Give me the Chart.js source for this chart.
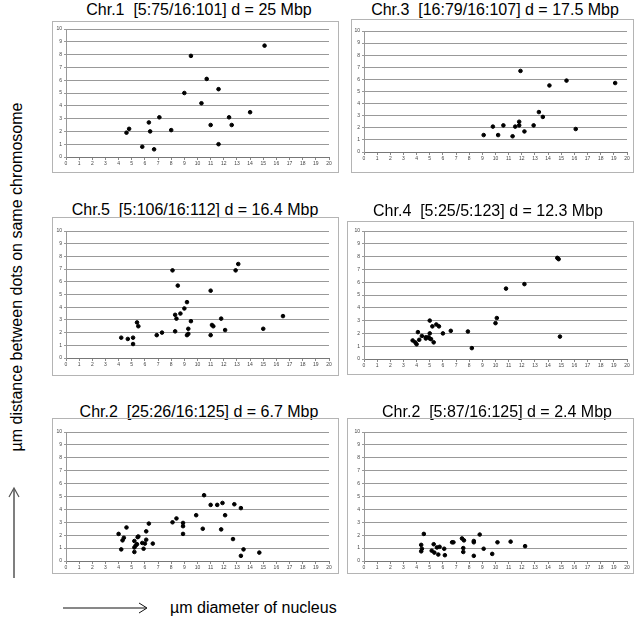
<!DOCTYPE html>
<html>
<head>
<meta charset="utf-8">
<script src="https://cdn.jsdelivr.net/npm/chart.js@4.4.1/dist/chart.umd.min.js"></script>
<style>
body { margin: 0; background: #fff; width: 640px; height: 623px; position: relative; overflow: hidden; font-family: "Liberation Sans", Arial, sans-serif; color: #000; }
.caja { position: absolute; outline: 1px solid #b4b4b4; }
.caja canvas { display: block; }
.titulo { position: absolute; font-size: 16px; line-height: 18px; white-space: pre; transform: translateX(-50%); }
.etiqueta { position: absolute; font-size: 16px; line-height: 18px; white-space: pre; }
</style>
</head>
<body>

<svg width="640" height="623" style="position:absolute;left:0;top:0">
  <line x1="14" y1="578" x2="14" y2="489" stroke="#555" stroke-width="1.5"/>
  <polyline points="9,497 14,488 19,497" fill="none" stroke="#555" stroke-width="1.2"/>
  <line x1="63" y1="608" x2="146" y2="608" stroke="#111" stroke-width="1"/>
  <polyline points="139,603 147,608 139,613" fill="none" stroke="#111" stroke-width="1"/>
</svg>

<div class="etiqueta" style="left:-163px;top:268px;width:360px;text-align:center;transform:rotate(-90deg)">µm distance between dots on same chromosome</div>
<div class="etiqueta" style="left:170px;top:599px">µm diameter of nucleus</div>

<div id="paneles"></div>

<script>
// Datos (x = diámetro del núcleo, y = distancia entre puntos)
const titulos = [
    "Chr.1  [5:75/16:101] d = 25 Mbp",
    "Chr.3  [16:79/16:107] d = 17.5 Mbp",
    "Chr.5  [5:106/16:112] d = 16.4 Mbp",
    "Chr.4  [5:25/5:123] d = 12.3 Mbp",
    "Chr.2  [25:26/16:125] d = 6.7 Mbp",
    "Chr.2  [5:87/16:125] d = 2.4 Mbp"
]

const chr1X = [4.6, 4.8, 6.3, 6.4, 5.8, 6.7, 7.1, 8.0, 9.0, 9.5, 10.3, 10.7, 11.0, 11.6, 11.6, 12.4, 12.6, 14.0, 15.1]
const chr1Y = [1.9, 2.2, 2.7, 2.0, 0.8, 0.6, 3.1, 2.1, 5.0, 7.9, 4.2, 6.1, 2.5, 5.3, 1.0, 3.1, 2.5, 3.5, 8.7]

const chr3X = [9.1, 9.8, 10.2, 10.6, 11.3, 11.5, 11.8, 11.8, 11.9, 12.2, 12.9, 13.3, 13.6, 14.1, 15.4, 16.1, 19.1]
const chr3Y = [1.4, 2.1, 1.4, 2.2, 1.3, 2.1, 2.2, 2.5, 6.7, 1.7, 2.2, 3.3, 2.9, 5.5, 5.9, 1.9, 5.7]

const chr5X = [4.2, 4.7, 5.1, 5.1, 5.4, 5.5, 6.9, 7.3, 8.1, 8.3, 8.3, 8.4, 8.5, 8.7, 9.0, 9.2, 9.2, 9.3, 9.3, 9.5, 11.0, 11.0, 11.1, 11.2, 11.8, 12.1, 12.9, 13.1, 15.0, 16.5]
const chr5Y = [1.6, 1.5, 1.6, 1.1, 2.8, 2.5, 1.8, 2.0, 6.9, 2.1, 3.4, 3.1, 5.7, 3.5, 3.9, 1.8, 4.4, 1.9, 2.3, 2.9, 1.8, 5.3, 2.6, 2.5, 3.1, 2.2, 6.9, 7.4, 2.3, 3.3]

const chr4X = [3.7, 3.9, 4.0, 4.1, 4.2, 4.4, 4.7, 4.7, 4.9, 5.0, 5.0, 5.0, 5.1, 5.2, 5.3, 5.5, 5.7, 6.0, 6.6, 7.9, 8.2, 10.0, 10.1, 10.8, 12.2, 14.7, 14.8, 14.9]
const chr4Y = [1.45, 1.3, 1.15, 2.1, 1.5, 1.8, 1.7, 1.6, 1.7, 1.6, 3.0, 2.0, 1.55, 2.55, 1.3, 2.7, 2.55, 2.0, 2.2, 2.15, 0.85, 2.8, 3.2, 5.5, 5.85, 7.9, 7.8, 1.75]

const chr2aX = [4.0, 4.2, 4.3, 4.4, 4.6, 5.2, 5.2, 5.2, 5.3, 5.4, 5.45, 5.5, 5.8, 5.9, 6.0, 6.1, 6.1, 6.3, 6.6, 8.1, 8.4, 8.9, 8.9, 8.9, 9.9, 10.4, 10.5, 11.0, 11.5, 11.9, 11.8, 12.1, 12.7, 12.8, 13.3, 13.3, 13.5, 14.7]
const chr2aY = [2.1, 0.9, 1.6, 1.8, 2.6, 1.55, 0.7, 1.05, 1.2, 1.3, 1.85, 1.9, 1.4, 0.95, 1.35, 2.3, 1.65, 2.9, 1.35, 3.0, 3.3, 2.95, 2.7, 2.1, 3.55, 2.5, 5.1, 4.35, 4.35, 4.5, 2.45, 3.55, 1.7, 4.4, 4.1, 0.4, 0.9, 0.65]

const chr2bX = [4.35, 4.35, 4.4, 4.55, 5.15, 5.3, 5.35, 5.55, 5.65, 5.75, 6.1, 6.15, 6.7, 6.8, 7.45, 7.6, 7.55, 7.55, 8.35, 8.35, 8.35, 8.8, 9.1, 9.75, 10.15, 11.15, 12.25]
const chr2bY = [1.25, 0.75, 0.95, 2.1, 0.8, 1.3, 0.65, 1.05, 0.5, 1.1, 0.95, 0.45, 1.45, 1.45, 1.75, 1.6, 1.0, 0.7, 1.55, 1.45, 0.4, 2.05, 0.95, 0.55, 1.45, 1.5, 1.15]

const seriesX = [chr1X, chr3X, chr5X, chr4X, chr2aX, chr2bX]
const seriesY = [chr1Y, chr3Y, chr5Y, chr4Y, chr2aY, chr2bY]

// Ejes
const rangoX = [0, 20]
const rangoY = [0, 10]

// Posición de cada recuadro: caja (izq, arriba, ancho, alto), márgenes del área de trazado y centro del título
const cajas = [
    { x: 53,  y: 22,  w: 285, h: 150, izq: 13, der: 9, arr: 7,  aba: 15, tx: 199, ty: 10 },
    { x: 352, y: 20,  w: 281, h: 152, izq: 12, der: 6, arr: 11, aba: 20, tx: 495, ty: 10 },
    { x: 53,  y: 218, w: 285, h: 157, izq: 13, der: 9, arr: 13, aba: 17, tx: 195, ty: 210 },
    { x: 348, y: 222, w: 285, h: 152, izq: 16, der: 6, arr: 9,  aba: 15, tx: 488, ty: 211 },
    { x: 53,  y: 419, w: 285, h: 154, izq: 13, der: 9, arr: 13, aba: 12, tx: 199, ty: 412 },
    { x: 348, y: 419, w: 285, h: 154, izq: 16, der: 6, arr: 13, aba: 12, tx: 497, ty: 412 }
]

const contenedor = document.getElementById("paneles")

function panel(i) {
    const c = cajas[i]

    const titulo = document.createElement("div")
    titulo.className = "titulo"
    titulo.textContent = titulos[i]
    titulo.style.left = c.tx + "px"
    titulo.style.top = (c.ty - 9) + "px"
    contenedor.append(titulo)

    const caja = document.createElement("div")
    caja.className = "caja"
    caja.style.left = c.x + "px"
    caja.style.top = c.y + "px"
    const lienzo = document.createElement("canvas")
    lienzo.width = c.w
    lienzo.height = c.h
    caja.append(lienzo)
    contenedor.append(caja)

    const puntos = seriesX[i].map((x, k) => ({ x: x, y: seriesY[i][k] }))

    new Chart(lienzo, {
        type: "scatter",
        data: {
            datasets: [{
                data: puntos,
                backgroundColor: "#000",
                borderColor: "#000",
                pointRadius: 1.8,
                pointHoverRadius: 1.8,
            }]
        },
        options: {
            responsive: false,
            animation: false,
            events: [],
            plugins: { legend: { display: false }, tooltip: { enabled: false } },
            layout: { padding: { top: c.arr, right: c.der, left: 0, bottom: 0 } },
            scales: {
                x: {
                    type: "linear",
                    min: rangoX[0],
                    max: rangoX[1],
                    ticks: { stepSize: 1, autoSkip: false, maxRotation: 0, font: { size: 5, family: "Liberation Sans" }, color: "#444", padding: 1 },
                    grid: { drawOnChartArea: false, tickLength: 3, color: "#888" },
                    border: { color: "#777" },
                    afterFit: s => { s.height = c.aba; s.paddingLeft = 0; s.paddingRight = 0 }
                },
                y: {
                    min: rangoY[0],
                    max: rangoY[1],
                    ticks: { stepSize: 1, font: { size: 5, family: "Liberation Sans" }, color: "#444", padding: 2 },
                    grid: { color: "#999", tickLength: 2 },
                    border: { color: "#999" },
                    afterFit: s => { s.width = c.izq; s.paddingTop = 0; s.paddingBottom = 0 }
                }
            }
        }
    })
}

for (let i = 0; i < cajas.length; i++) panel(i)
</script>
</body>
</html>
